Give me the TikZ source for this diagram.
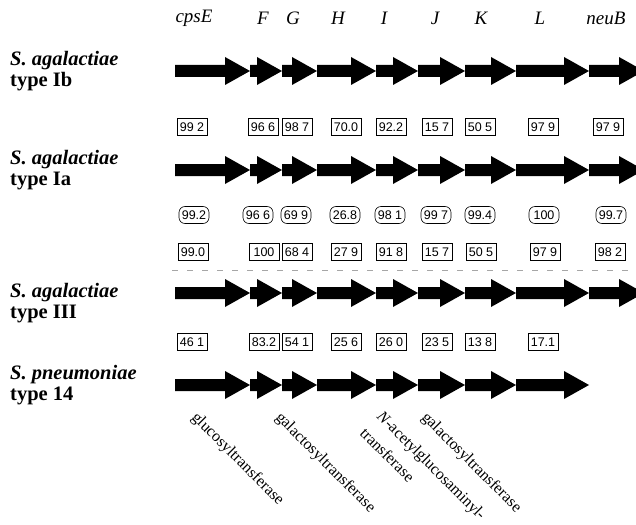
\documentclass[tikz,border=0pt]{standalone}
\usepackage{fontspec}
\setmainfont{Liberation Serif}
\newfontfamily\numfont{Liberation Sans}
\newcommand{\garrow}[3]{%
  \fill (#1,#3-6) -- (#2-25,#3-6) -- (#2-25,#3-14) -- (#2,#3) -- (#2-25,#3+14) -- (#2-25,#3+6) -- (#1,#3+6) -- cycle;}
\newcommand{\generow}[2]{%
  \garrow{175}{250}{#1}\garrow{250}{282}{#1}\garrow{282}{317}{#1}\garrow{317}{376}{#1}%
  \garrow{376}{418}{#1}\garrow{418}{465}{#1}\garrow{465}{516}{#1}\garrow{516}{589}{#1}%
  \ifnum#2>0 \garrow{589}{644}{#1}\fi}
\newcommand{\spname}[1]{{\itshape #1}}
\begin{document}
\begin{tikzpicture}[x=1pt,y=-1pt,
  species/.style={anchor=north west, font=\fontsize{20.5}{21}\selectfont\bfseries, align=left, inner sep=0pt},
  gene/.style={font=\fontsize{19}{22}\selectfont\itshape, inner sep=0pt},
  idbox/.style={draw, line width=0.6pt, font=\fontsize{12.5}{14}\selectfont\numfont, inner sep=1pt, minimum width=30pt, minimum height=17pt},
  idoval/.style={idbox, rounded corners=6pt},
  enzyme/.style={font=\fontsize{16}{24}\selectfont, rotate=-45, anchor=north west, inner sep=0pt, align=left}
]
\useasboundingbox (0,0) rectangle (636,524);
\clip (0,0) rectangle (636,524);

% gene names
\foreach \x/\t [count=\i] in {194/cpsE,263/F,293/G,338/H,384/I,435/J,481/K,540/L,606/neuB}
  \node[gene] (g\i) at (\x,18) {\t};

% species labels
\node[species] (sIb) at (10,51) {\spname{S. agalactiae}\\type Ib};
\node[species] (sIa) at (10,150) {\spname{S. agalactiae}\\type Ia};
\node[species] (sIII) at (10,283) {\spname{S. agalactiae}\\type III};
\node[species] (sp14) at (10,365) {\spname{S. pneumoniae}\\type 14};

% gene arrows
\generow{71}{1}
\generow{170}{1}
\generow{293}{1}
\generow{385}{0}

% identity values
\foreach \x/\t [count=\i] in {192/99 2,263/96 6,297/98 7,346/70.0,391/92.2,437/15 7,480/50 5,543/97 9,608/97 9}
  \node[idbox] (a\i) at (\x,127) {\t};
\foreach \x/\t [count=\i] in {194/99.2,258/96 6,296/69 9,345/26.8,390/98 1,436/99 7,480/99.4,544/100,611/99.7}
  \node[idoval] (b\i) at (\x,215) {\t};
\foreach \x/\t [count=\i] in {193/99.0,264/100,297/68 4,346/27 9,391/91 8,437/15 7,481/50 5,545/97 9,610/98 2}
  \node[idbox] (c\i) at (\x,252) {\t};
\foreach \x/\t [count=\i] in {192/46 1,264/83.2,297/54 1,346/25 6,391/26 0,437/23 5,480/13 8,543/17.1}
  \node[idbox] (d\i) at (\x,342) {\t};

% faint dashed line
\coordinate (dl) at (172,270);
\coordinate (dr) at (636,270);
\draw[gray!70, line width=0.7pt, dash pattern=on 6pt off 9pt] (dl) -- (dr);

% enzyme annotations
\node[enzyme] (e1) at (199,410) {glucosyltransferase};
\node[enzyme] (e2) at (283,410) {galactosyltransferase};
\node[enzyme] (e3) at (384,409) {\textit{N}-acetylglucosaminyl-\\transferase};
\node[enzyme] (e4) at (429,410) {galactosyltransferase};
\end{tikzpicture}
\end{document}
